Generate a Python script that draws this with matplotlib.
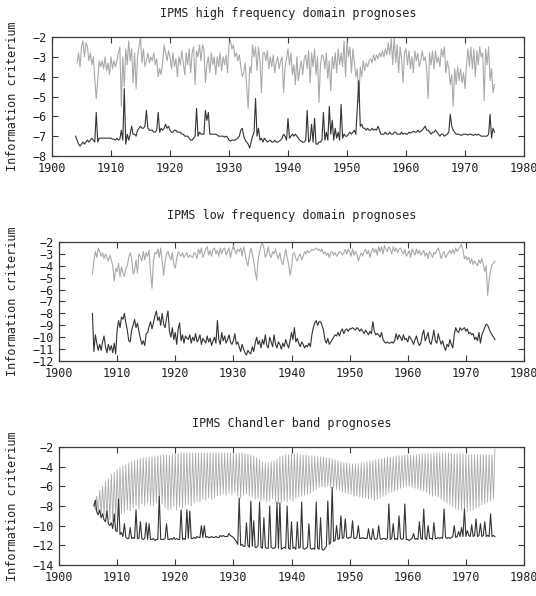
import numpy as np
import matplotlib
matplotlib.use("Agg")
import matplotlib.pyplot as plt

# values, one row per year, quarterly steps
# 1) high frequency domain
hf_gray_start = 1904.25
hf_gray = [
    -3.3, -2.8, -3.5,
    -2.5, -2.2, -3.0, -2.3,
    -2.5, -3.2, -2.8, -3.4,
    -3.0, -4.1, -5.1, -4.2,
    -3.2, -3.5, -3.2, -3.6,
    -3.0, -3.7, -3.3, -3.9,
    -3.0, -3.6, -3.2, -3.5,
    -3.2, -2.8, -2.5, -5.5,
    -3.0, -4.5, -2.6, -3.4,
    -2.2, -3.2, -2.6, -4.3,
    -2.8, -4.6, -3.0, -2.5,
    -2.0, -3.3, -2.6, -3.5,
    -3.2, -2.8, -3.3, -3.0,
    -3.2, -2.8, -3.4, -3.1,
    -4.0, -3.6, -3.9, -3.3,
    -2.4, -2.8, -3.2, -2.7,
    -3.0, -3.6, -2.8, -3.5,
    -3.1, -4.0, -3.0, -3.4,
    -2.7, -3.3, -3.9, -2.8,
    -3.4, -2.6, -3.8, -2.8,
    -2.5, -4.4, -2.7, -3.0,
    -2.4, -3.2, -2.4, -2.6,
    -4.3, -3.4, -3.0, -3.8,
    -2.8, -3.4, -3.0, -3.9,
    -3.0, -3.5, -2.8, -3.7,
    -3.0, -3.4, -2.9, -3.8,
    -2.4, -2.2, -2.6, -2.4,
    -3.0, -2.8, -3.2, -2.9,
    -3.5, -4.0, -3.8, -3.3,
    -4.5, -5.6, -3.5, -3.8,
    -2.4, -3.0, -2.5, -3.7,
    -2.5, -3.2, -4.8, -2.8,
    -2.8, -3.2, -2.7, -3.6,
    -3.0, -3.5, -2.9, -3.8,
    -3.3, -3.0, -3.6, -3.2,
    -3.0, -4.8, -3.5, -3.1,
    -2.6, -3.4, -2.8, -3.9,
    -3.4, -4.4, -3.0, -4.2,
    -3.6, -3.2, -3.9, -3.1,
    -2.9, -3.6, -2.7, -4.3,
    -2.8, -3.5, -2.6, -3.9,
    -3.0, -5.3, -3.4, -2.9,
    -3.0, -3.6, -2.8, -4.1,
    -3.2, -4.7, -3.0, -3.6,
    -2.8, -3.8, -2.6, -3.4,
    -2.8, -3.5, -2.2, -4.0,
    -2.2, -3.0, -2.5, -3.8,
    -2.6, -3.3, -4.0, -3.6,
    -5.3, -3.5, -4.0, -3.2,
    -3.7, -3.3, -3.5, -3.2,
    -3.1, -3.3, -2.9, -3.2,
    -2.9, -3.1, -2.8, -3.0,
    -2.7, -3.0, -2.6, -2.9,
    -2.3, -2.9, -2.1, -3.4,
    -2.0, -3.3, -2.4, -3.8,
    -2.5, -3.1, -4.3, -2.8,
    -2.6, -3.4, -2.7, -3.6,
    -3.0, -3.8, -2.7, -3.2,
    -2.8, -3.5, -3.2, -2.7,
    -3.2, -3.0, -3.6, -5.1,
    -2.8, -3.4, -2.7, -3.6,
    -2.7, -3.3, -3.0, -3.5,
    -2.6, -3.0, -2.5, -3.8,
    -3.2, -3.6, -4.4, -3.9,
    -5.5, -3.6, -4.4, -3.5,
    -4.2, -3.6, -4.3, -3.8,
    -4.6, -3.4, -2.6, -3.5,
    -2.5, -3.6, -2.6, -4.0,
    -2.7, -3.4, -2.5, -3.0,
    -2.8, -5.2, -2.6, -3.4,
    -2.5, -4.2, -3.6, -4.8,
    -4.4,
]
hf_black_start = 1904.0
hf_black = [
    -7.0, -7.2, -7.4, -7.5,
    -7.4, -7.3, -7.4, -7.3,
    -7.2, -7.3, -7.2, -7.1,
    -7.2, -7.3, -5.8, -7.3,
    -7.1, -7.1, -7.1, -7.1,
    -7.1, -7.1, -7.1, -7.1,
    -7.1, -7.15, -7.15, -7.2,
    -7.1, -7.2, -7.15, -6.7,
    -7.2, -4.6, -7.4, -6.9,
    -7.2, -6.9, -6.5, -6.9,
    -6.9, -7.0, -6.7, -6.6,
    -6.5, -6.6, -6.6, -6.5,
    -5.7, -6.6, -6.7, -6.7,
    -6.7, -6.8, -6.8, -6.7,
    -5.8, -6.8, -6.6, -6.7,
    -6.6, -6.4, -6.6, -6.5,
    -6.7, -6.8, -6.8, -6.7,
    -6.7, -6.8, -6.8, -6.8,
    -6.9, -6.9, -7.0, -7.0,
    -7.0, -7.1, -7.2, -7.2,
    -7.1, -7.0, -5.6, -7.0,
    -6.8, -6.9, -6.9, -6.9,
    -5.7, -6.2, -5.8, -6.9,
    -6.9, -6.9, -6.9, -6.9,
    -6.95, -7.0, -7.0, -7.0,
    -7.0, -7.05, -7.0, -7.05,
    -7.2, -7.25, -7.2, -7.2,
    -7.2, -7.15, -7.1, -7.0,
    -6.7, -6.6, -7.0, -7.2,
    -7.3, -7.4, -7.6, -7.3,
    -7.0, -6.8, -5.1, -7.0,
    -6.6, -7.2, -7.1, -7.3,
    -7.1, -7.2, -7.3, -7.25,
    -7.2, -7.3, -7.3, -7.2,
    -7.3, -7.3, -7.25, -7.2,
    -7.1, -6.9, -7.0, -7.2,
    -6.1, -7.1, -7.0, -6.9,
    -7.0, -6.9, -7.0, -7.1,
    -7.2, -7.25, -7.3, -7.3,
    -7.2, -5.7, -7.3, -7.2,
    -6.4, -7.3, -6.1, -7.4,
    -7.4, -7.3, -7.3, -7.2,
    -5.8, -7.2, -6.8, -7.2,
    -5.5, -6.9, -6.2, -7.2,
    -6.6, -7.1, -6.8, -7.2,
    -5.4, -7.1, -6.9, -7.0,
    -7.0, -6.9, -6.8, -6.9,
    -6.8, -6.7, -6.9, -5.5,
    -4.2, -6.5, -6.4, -6.6,
    -6.6, -6.7, -6.6, -6.7,
    -6.7, -6.6, -6.7, -6.65,
    -6.7, -6.5, -6.7, -6.9,
    -6.9, -6.9, -6.8, -6.9,
    -6.9, -6.8, -6.9, -6.9,
    -6.8, -6.8, -6.9, -6.9,
    -6.9, -6.8, -6.9, -6.85,
    -6.9, -6.9, -6.8, -6.85,
    -6.8, -6.75, -6.8, -6.8,
    -6.7, -6.8, -6.75, -6.7,
    -6.6, -6.5, -6.7, -6.7,
    -6.8, -6.9, -6.8, -6.8,
    -6.7, -6.8, -6.9, -7.0,
    -6.9, -6.9, -7.0, -6.95,
    -6.9, -6.8, -5.9, -6.5,
    -6.7, -6.8, -6.9, -6.9,
    -6.9, -6.95, -6.95, -6.9,
    -6.9, -6.9, -6.95, -6.9,
    -6.9, -6.95, -6.95, -6.9,
    -6.95, -6.9, -6.95, -7.0,
    -7.0, -7.0, -7.0, -7.0,
    -6.9, -5.9, -7.1, -6.6,
    -6.8,
]

# 2) low frequency domain
lf_start = 1905.75
lf_gray = [
    -4.7,
    -3.6, -2.8, -3.3, -2.5,
    -2.8, -3.2, -2.9, -3.4,
    -3.0, -3.3, -3.6, -3.1,
    -3.5, -4.0, -5.3, -4.2,
    -4.5, -3.8, -4.9, -4.1,
    -4.6, -4.9, -4.2, -4.0,
    -3.3, -2.9, -3.4, -4.7,
    -4.4, -3.5, -4.6, -3.0,
    -3.2, -3.6, -2.8, -3.5,
    -2.9, -3.2, -2.7, -4.6,
    -5.9, -3.5, -2.9, -3.0,
    -2.6, -3.3, -2.5, -3.6,
    -4.8, -3.7, -3.0, -2.8,
    -3.2, -3.5, -2.9, -3.9,
    -4.2, -3.4, -2.8, -3.0,
    -3.2, -2.9, -3.3, -3.1,
    -2.9, -3.3, -3.1, -3.2,
    -3.3, -2.9, -3.0, -3.4,
    -2.6, -3.0, -2.5, -3.3,
    -3.0, -2.6, -2.4, -3.1,
    -2.7, -3.2, -2.6, -2.5,
    -3.0, -2.7, -3.2, -2.5,
    -3.0, -2.6, -2.5, -3.1,
    -2.8, -2.5, -3.3, -2.7,
    -2.3, -2.7, -3.0, -2.6,
    -2.8, -2.5, -3.2, -2.4,
    -2.9, -3.6, -4.0, -3.2,
    -2.5, -3.0, -3.6, -4.5,
    -5.2, -3.5, -2.9, -2.3,
    -2.1, -2.5, -3.3, -3.0,
    -2.4, -3.1, -3.3, -2.8,
    -3.0, -2.6, -3.1, -3.4,
    -2.9, -3.6, -3.9, -3.3,
    -2.6, -3.3, -3.8, -4.8,
    -4.2, -3.0, -2.9, -3.4,
    -3.6, -3.2, -3.0, -3.5,
    -3.2, -2.8, -3.0, -2.7,
    -2.9, -2.8, -2.6, -2.7,
    -2.6, -2.5, -2.7, -2.6,
    -2.8, -2.6, -3.0, -2.8,
    -3.1, -2.9, -3.3, -2.9,
    -2.8, -3.1, -2.9, -3.2,
    -3.0, -2.8, -2.9, -3.1,
    -2.9, -2.6, -3.0, -2.6,
    -2.8, -3.2, -2.6, -3.1,
    -2.8, -3.0, -3.6, -3.2,
    -2.9, -3.2, -2.8, -2.6,
    -3.0, -2.7, -3.3, -2.8,
    -2.5, -2.9, -2.6, -3.1,
    -2.4, -2.8, -2.4, -3.0,
    -2.3, -2.6, -2.8, -2.4,
    -2.6, -3.0, -2.4, -2.8,
    -2.5, -2.9, -2.6, -2.5,
    -2.8, -3.0, -2.6, -3.2,
    -3.0, -2.7, -3.3, -2.6,
    -2.9, -3.1, -2.6, -3.0,
    -2.7, -3.1, -2.9, -2.7,
    -3.2, -2.9, -3.4, -2.8,
    -3.0, -3.3, -2.9, -3.0,
    -2.7, -2.5, -2.9, -3.4,
    -3.0, -2.8, -3.3, -3.1,
    -2.9, -2.7, -3.0, -2.6,
    -3.0, -2.5, -2.8, -2.6,
    -2.4, -2.2, -2.7, -3.4,
    -3.2, -3.5, -3.3, -3.8,
    -3.4, -3.9, -3.6, -3.8,
    -4.0, -3.5, -3.8, -3.4,
    -3.9, -4.5, -4.0, -6.5,
    -5.2, -4.4, -3.9, -3.8,
    -3.6,
]
lf_black = [
    -8.0,
    -11.2, -9.8, -10.5, -11.1,
    -10.6, -11.1, -10.4, -9.9,
    -10.8, -11.3, -10.6, -11.1,
    -10.7, -11.3, -10.5, -11.4,
    -9.4, -8.6, -9.2, -8.3,
    -8.5, -8.0, -8.8, -9.4,
    -10.3, -10.4, -9.4, -9.0,
    -8.5, -9.2, -8.8, -9.5,
    -10.1, -10.6, -10.3, -10.7,
    -9.7, -9.6, -9.1, -8.7,
    -9.3, -8.8, -8.2, -7.8,
    -8.6, -8.3, -9.0, -8.0,
    -8.9, -9.2, -8.4, -7.8,
    -9.5, -10.0, -9.2, -10.2,
    -9.6, -10.6, -9.3, -8.8,
    -10.3, -9.8, -10.5, -9.9,
    -10.1, -10.2, -9.8, -10.5,
    -10.0, -10.3, -9.7, -10.4,
    -10.2, -9.8, -10.6, -10.1,
    -10.3, -10.5, -9.9, -10.4,
    -10.1, -10.7, -10.3, -10.0,
    -10.5, -8.6, -10.2, -10.6,
    -9.6, -10.3, -9.9, -10.5,
    -10.2, -9.8, -10.4, -10.6,
    -10.3, -9.7, -10.6, -10.4,
    -10.8, -11.2, -10.6, -11.0,
    -11.3, -11.5, -11.1, -11.3,
    -11.4, -10.8, -11.2, -10.5,
    -10.0, -10.6, -10.3, -10.9,
    -10.2, -10.6, -9.8, -10.7,
    -10.9, -10.0, -10.4, -10.8,
    -9.8, -10.6, -10.9, -10.4,
    -10.6, -11.0, -10.5, -10.8,
    -10.2, -10.6, -10.9, -10.3,
    -9.6, -10.2, -9.2, -10.4,
    -10.1, -10.5, -10.8, -10.4,
    -10.6, -10.9, -10.7, -10.8,
    -10.5, -10.8, -9.8, -9.2,
    -8.8, -8.6, -9.0, -8.7,
    -8.7, -9.0, -9.4, -10.2,
    -10.5, -10.1, -10.6, -10.4,
    -10.2, -10.0, -9.8, -9.9,
    -9.6, -9.9, -9.5, -9.3,
    -9.7, -9.4, -9.3, -9.5,
    -9.3, -9.3, -9.2, -9.3,
    -9.4, -9.2, -9.3, -9.5,
    -9.3, -9.5, -9.7, -9.4,
    -9.6, -9.8, -9.5, -9.7,
    -8.7, -9.5, -9.8, -9.7,
    -9.8, -10.0, -9.6, -10.2,
    -10.4, -10.5, -10.4, -10.5,
    -10.5, -10.4, -10.5, -10.3,
    -9.7, -10.2, -9.8, -10.0,
    -10.3, -9.8, -10.2, -10.1,
    -10.4, -9.9, -10.1, -10.3,
    -10.6, -10.2, -9.9, -10.4,
    -10.7, -10.5, -9.8, -9.4,
    -10.3, -10.0, -9.6, -10.4,
    -10.6, -10.1, -9.4, -10.3,
    -10.5, -9.7, -10.2, -10.6,
    -10.3, -10.8, -11.1, -10.6,
    -10.8, -10.2, -10.6, -10.9,
    -9.8, -9.2, -9.5, -9.6,
    -9.2, -9.4, -9.3, -9.2,
    -9.5, -9.3, -9.7, -9.6,
    -9.8, -9.7, -10.2, -10.0,
    -10.3, -9.6, -10.5, -9.8,
    -9.5, -9.2, -8.9, -9.0,
    -9.3, -9.6, -9.8, -10.0,
    -10.2,
]

# 3) Chandler band
cb_start = 1906.0
cb_gray = [
    -7.8, -8.4, -7.0, -8.6,
    -6.4, -8.8, -6.0, -9.0,
    -5.5, -9.2, -5.2, -9.4,
    -4.8, -9.6, -4.6, -9.2,
    -4.3, -9.0, -4.1, -8.8,
    -3.9, -8.7, -3.8, -8.4,
    -3.6, -8.5, -3.5, -8.2,
    -3.4, -8.0, -3.3, -8.3,
    -3.2, -7.8, -3.1, -8.0,
    -3.1, -7.7, -3.0, -7.9,
    -3.0, -8.0, -3.0, -7.7,
    -2.9, -8.1, -2.9, -7.8,
    -2.8, -8.2, -2.8, -8.4,
    -2.8, -8.3, -2.7, -8.0,
    -2.7, -8.4, -2.7, -8.1,
    -2.6, -8.2, -2.6, -7.9,
    -2.6, -7.8, -2.6, -8.0,
    -2.6, -7.7, -2.6, -7.5,
    -2.6, -7.6, -2.6, -7.3,
    -2.6, -7.4, -2.6, -7.2,
    -2.6, -7.3, -2.6, -7.1,
    -2.6, -7.0, -2.6, -6.9,
    -2.6, -6.8, -2.6, -6.9,
    -2.6, -6.7, -2.6, -6.9,
    -2.6, -6.6, -2.6, -7.0,
    -2.6, -7.2, -2.6, -6.9,
    -2.7, -6.8, -2.7, -7.0,
    -2.8, -7.1, -2.9, -7.3,
    -3.1, -7.2, -3.3, -7.5,
    -3.5, -7.4, -3.6, -7.6,
    -3.6, -7.5, -3.5, -7.3,
    -3.4, -7.6, -3.2, -7.8,
    -3.0, -7.7, -2.9, -7.5,
    -2.8, -7.6, -2.8, -7.4,
    -2.7, -7.5, -2.7, -7.2,
    -2.7, -7.1, -2.8, -7.0,
    -2.8, -6.9, -2.8, -6.8,
    -2.9, -6.7, -2.9, -6.5,
    -2.9, -6.3, -3.0, -6.1,
    -3.0, -6.0, -3.0, -6.1,
    -3.1, -6.0, -3.1, -6.2,
    -3.2, -6.1, -3.3, -6.3,
    -3.4, -6.4, -3.5, -6.6,
    -3.6, -6.7, -3.6, -6.8,
    -3.7, -6.8, -3.7, -7.0,
    -3.7, -7.0, -3.7, -7.1,
    -3.6, -7.2, -3.6, -7.2,
    -3.5, -7.3, -3.4, -7.2,
    -3.4, -7.4, -3.3, -7.3,
    -3.2, -7.2, -3.2, -7.0,
    -3.1, -6.9, -3.0, -6.7,
    -3.0, -6.6, -3.0, -6.5,
    -2.9, -6.4, -2.9, -6.2,
    -2.9, -6.1, -2.8, -6.0,
    -2.8, -6.0, -2.8, -6.1,
    -2.8, -6.2, -2.8, -6.3,
    -2.7, -6.4, -2.7, -6.5,
    -2.7, -6.6, -2.7, -6.8,
    -2.7, -7.0, -2.6, -6.9,
    -2.6, -7.1, -2.6, -7.3,
    -2.6, -7.5, -2.6, -7.7,
    -2.6, -7.9, -2.6, -8.1,
    -2.7, -8.3, -2.7, -8.4,
    -2.7, -8.5, -2.7, -8.6,
    -2.8, -8.6, -2.8, -8.5,
    -2.8, -8.4, -2.8, -8.2,
    -2.8, -8.1, -2.8, -7.9,
    -2.8, -7.8, -2.8, -7.6,
    -2.8, -7.5, -2.8, -7.3,
    -2.2,
]
cb_black = [
    -8.0, -7.4, -8.6, -8.9,
    -8.4, -9.2, -8.8, -9.4,
    -9.6, -8.5, -9.8, -10.0,
    -9.7, -10.3, -8.8, -10.5,
    -10.6, -7.3, -10.9, -10.7,
    -11.1, -9.8, -11.2, -11.3,
    -11.3, -10.2, -11.3, -11.2,
    -11.3, -8.4, -11.3, -11.3,
    -9.6, -11.3, -11.4, -11.3,
    -9.7, -11.4, -9.8, -11.4,
    -11.4, -11.3, -11.5, -11.4,
    -11.4, -7.0, -11.4, -11.4,
    -11.4, -11.3, -9.8, -11.4,
    -11.4, -11.3, -11.4, -11.2,
    -11.4, -11.3, -11.4, -11.4,
    -8.4, -11.4, -11.3, -11.4,
    -8.4, -11.3, -8.5, -11.3,
    -11.3, -11.2, -11.3, -11.1,
    -11.2, -11.2, -10.0, -11.2,
    -10.0, -11.2, -11.1, -11.2,
    -11.2, -11.1, -11.2, -11.2,
    -11.1, -11.2, -11.2, -11.0,
    -11.1, -11.0, -11.1, -11.1,
    -11.1, -10.8, -11.0, -11.1,
    -11.2, -11.4, -11.6, -11.9,
    -7.2, -12.0, -11.9, -12.1,
    -12.1, -9.7, -12.0, -12.2,
    -7.5, -12.1, -9.5, -12.2,
    -12.2, -12.0, -7.6, -12.2,
    -12.3, -9.2, -12.2, -12.3,
    -12.3, -8.0, -12.2, -12.3,
    -12.3, -12.2, -7.6, -12.3,
    -7.7, -12.4, -12.3, -12.2,
    -12.3, -8.0, -12.3, -12.4,
    -9.6, -12.3, -12.2, -12.4,
    -9.6, -12.3, -12.2, -7.6,
    -12.3, -12.4, -12.3, -12.2,
    -9.8, -12.3, -12.4, -12.3,
    -12.4, -7.6, -12.3, -12.4,
    -9.2, -12.4, -12.5, -12.3,
    -12.1, -7.5, -11.9, -11.7,
    -6.1, -11.6, -11.5, -10.0,
    -11.4, -11.3, -9.0, -11.3,
    -11.2, -9.3, -11.2, -11.3,
    -11.2, -11.2, -9.5, -11.3,
    -11.3, -11.2, -10.0, -11.3,
    -11.3, -11.2, -11.3, -11.3,
    -11.3, -10.3, -11.3, -11.4,
    -10.3, -11.3, -11.4, -11.3,
    -10.0, -11.3, -11.4, -11.3,
    -11.3, -11.4, -11.3, -7.8,
    -11.4, -11.3, -9.8, -11.4,
    -11.3, -11.4, -9.0, -11.3,
    -11.4, -11.3, -7.8, -11.4,
    -11.4, -11.5, -11.4, -11.3,
    -10.8, -11.4, -11.3, -11.4,
    -9.6, -11.3, -11.4, -8.3,
    -11.3, -11.4, -10.0, -11.3,
    -11.3, -11.4, -9.7, -11.3,
    -11.3, -11.2, -11.3, -11.2,
    -11.3, -8.3, -11.2, -11.3,
    -11.2, -11.3, -11.2, -11.1,
    -10.0, -11.2, -11.1, -10.6,
    -11.1, -10.2, -11.1, -8.3,
    -11.1, -10.5, -11.0, -11.1,
    -9.9, -11.1, -11.0, -9.3,
    -11.1, -11.0, -9.8, -11.1,
    -11.0, -9.6, -11.1, -11.0,
    -11.1, -8.8, -11.1, -11.0,
    -11.1,
]

titles = ["IPMS high frequency domain prognoses",
          "IPMS low frequency domain prognoses",
          "IPMS Chandler band prognoses"]
ylims = [(-8, -2), (-12, -2), (-14, -2)]
ysteps = [1, 1, 2]


def years(start, vals):
    return start + 0.25 * np.arange(len(vals))


plt.rcParams["font.family"] = ["DejaVu Sans Mono"]
plt.rcParams["font.size"] = 8.5

W, H = 536, 596
fig = plt.figure(figsize=(W / 100, H / 100), dpi=100)

# axes boxes in pixels: left, top, right, bottom
boxes = [(52, 37, 524, 156), (59, 242, 524, 361), (59, 447, 524, 565)]
series = [
    ((hf_gray_start, hf_gray), (hf_black_start, hf_black)),
    ((lf_start, lf_gray), (lf_start, lf_black)),
    ((cb_start, cb_gray), (cb_start, cb_black)),
]
pads = [14.5, 16.5, 14.5]
gray_lw = [0.8, 0.8, 0.6]

frame = "#3a3a3a"
for i, (l, t, r, b) in enumerate(boxes):
    ax = fig.add_axes([l / W, 1 - b / H, (r - l) / W, (b - t) / H])
    (gs, gv), (bs, bv) = series[i]
    ax.plot(years(gs, gv), gv, color="#a9a9a9", lw=gray_lw[i])
    ax.plot(years(bs, bv), bv, color="#333333", lw=0.8)
    ax.set_xlim(1900, 1980)
    ax.set_ylim(*ylims[i])
    ax.set_xticks(np.arange(1900, 1981, 10))
    ax.set_yticks(np.arange(ylims[i][0], ylims[i][1] + 0.1, ysteps[i]))
    ax.tick_params(direction="in", top=True, right=True, length=4,
                   width=0.8, color=frame, labelcolor="#222222", pad=4)
    for s in ax.spines.values():
        s.set_color(frame)
        s.set_linewidth(0.9)
    ax.set_title(titles[i], pad=pads[i], fontsize=8.5, color="#222222")
    ax.set_ylabel("Information criterium", color="#222222")
    ax.yaxis.set_label_coords((19 - l) / (r - l), 0.5)

fig.savefig("out.png", dpi=100)
